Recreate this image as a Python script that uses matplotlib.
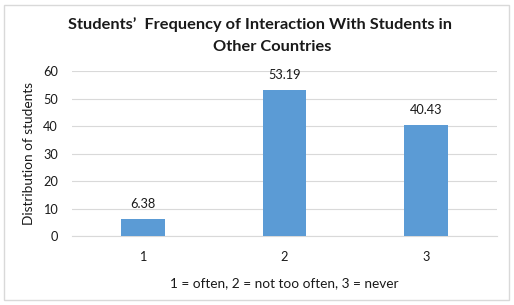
import matplotlib.pyplot as plt
from matplotlib.patches import Rectangle

# data
categories = ['1', '2', '3']
values = [6.38, 53.19, 40.43]
value_labels = ['6.38', '53.19', '40.43']
yticks = [0, 10, 20, 30, 40, 50, 60]

plt.rcParams['font.family'] = ['Lato', 'DejaVu Sans']
txt = '#1a1a1a'

fig = plt.figure(figsize=(5.14, 3.05), dpi=100)
ax = fig.add_axes([0.140, 0.226, 0.827, 0.541])

x = range(1, len(categories) + 1)
ax.bar(x, values, width=0.31, color='#5b9bd5', zorder=3)

for xi, v, lab in zip(x, values, value_labels):
    ax.annotate(lab, (xi, v), xytext=(0, 10.5), textcoords='offset points',
                ha='center', va='center', fontsize=9.2, color=txt)

ax.set_xlim(0.5, 3.5)
ax.set_ylim(0, 60)
ax.set_yticks(yticks)
ax.set_xticks(list(x))
ax.set_xticklabels(categories)
ax.tick_params(length=0, labelsize=9.2, colors=txt)
ax.tick_params(axis='x', pad=11)
ax.tick_params(axis='y', pad=10)
ax.grid(axis='y', color='#d9d9d9', linewidth=0.8, zorder=0)

for s in ['top', 'right', 'left']:
    ax.spines[s].set_visible(False)
ax.spines['bottom'].set_color('#d9d9d9')
ax.spines['bottom'].set_linewidth(0.8)

ax.set_ylabel('Distribution of students', fontsize=9.8, color=txt, labelpad=6)
ax.set_xlabel('1 = often, 2 = not too often, 3 = never', fontsize=9.8, color=txt, labelpad=10)

fig.text(0.505, 0.918, 'Students\u2019  Frequency of Interaction With Students in',
         ha='center', va='center', fontsize=11.8, fontweight='bold', color=txt)
fig.text(0.53, 0.846, 'Other Countries',
         ha='center', va='center', fontsize=11.8, fontweight='bold', color=txt)

fig.patches.append(Rectangle((0.008, 0.016), 0.982, 0.968, transform=fig.transFigure,
                             fill=False, edgecolor='#d9d9d9', linewidth=1))

fig.savefig('out.png', dpi=100)
